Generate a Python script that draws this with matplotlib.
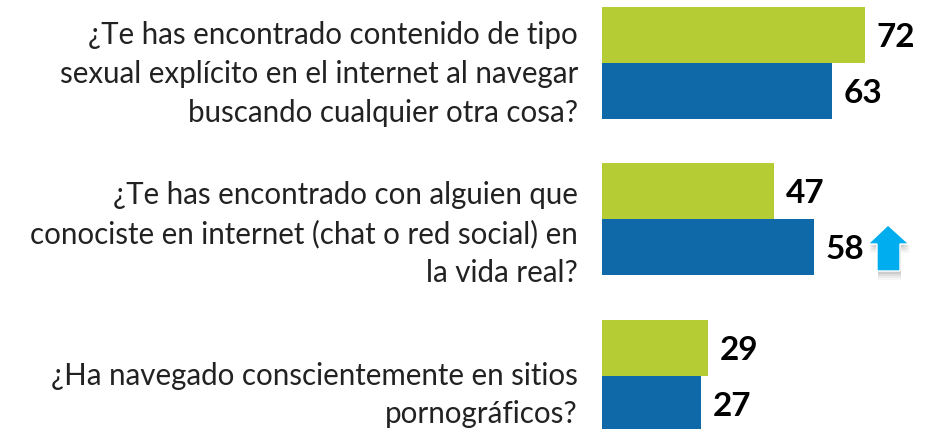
import matplotlib
matplotlib.use("Agg")
import matplotlib.pyplot as plt
from matplotlib.patches import Polygon

questions = [
    "¿Te has encontrado contenido de tipo\nsexual explícito en el internet al navegar\nbuscando cualquier otra cosa?",
    "¿Te has encontrado con alguien que\nconociste en internet (chat o red social) en\nla vida real?",
    "¿Ha navegado conscientemente en sitios\npornográficos?",
]
green_vals = [72, 47, 29]
blue_vals = [63, 58, 27]

W, H = 937, 429
plt.rcParams["font.family"] = ["Lato", "DejaVu Sans"]

fig = plt.figure(figsize=(W / 100, H / 100), dpi=100)
ax = fig.add_axes([0, 0, 1, 1])
# ejes en pixeles de la imagen
x0 = 602
scale = 3.65
ax.set_xlim(-x0 / scale, (W - x0) / scale)
ax.set_ylim(H, 0)
ax.axis("off")

tops = [7, 163, 320]
bh = 56
for i in range(3):
    ax.barh(tops[i] + bh / 2, green_vals[i], height=bh, color="#b5cc34")
    ax.barh(tops[i] + bh * 1.5, blue_vals[i], height=bh, color="#0f69a8")
    ax.text(green_vals[i] + 3.3, tops[i] + bh / 2 + 2.5, str(green_vals[i]), fontsize=24, fontweight="bold", va="center", ha="left", color="black")
    ax.text(blue_vals[i] + 3.3, tops[i] + bh * 1.5 + 2.5, str(blue_vals[i]), fontsize=24, fontweight="bold", va="center", ha="left", color="black")

text_y = [74, 234, 395]
for q, y in zip(questions, text_y):
    ax.text(-6.6, y, q, fontsize=21.25, ha="right", va="center", color="#222222", linespacing=1.47)

# flecha azul junto al 58
ax2 = fig.add_axes([0, 0, 1, 1])
ax2.set_xlim(0, W)
ax2.set_ylim(H, 0)
ax2.axis("off")
arrow = [(888, 225), (909, 244), (900, 244), (900, 271), (877, 271), (877, 244), (868, 244)]
# sombra difusa debajo de la flecha
for dy, a in [(9, 0.05), (7, 0.08), (5, 0.1), (3, 0.14)]:
    shadow = [(x + 1, y + dy) for x, y in arrow]
    ax2.add_patch(Polygon(shadow, closed=True, color="#666666", alpha=a, lw=0))
ax2.add_patch(Polygon(arrow, closed=True, facecolor="#00aeef", edgecolor="white", lw=1))

fig.savefig("out.png", dpi=100)
